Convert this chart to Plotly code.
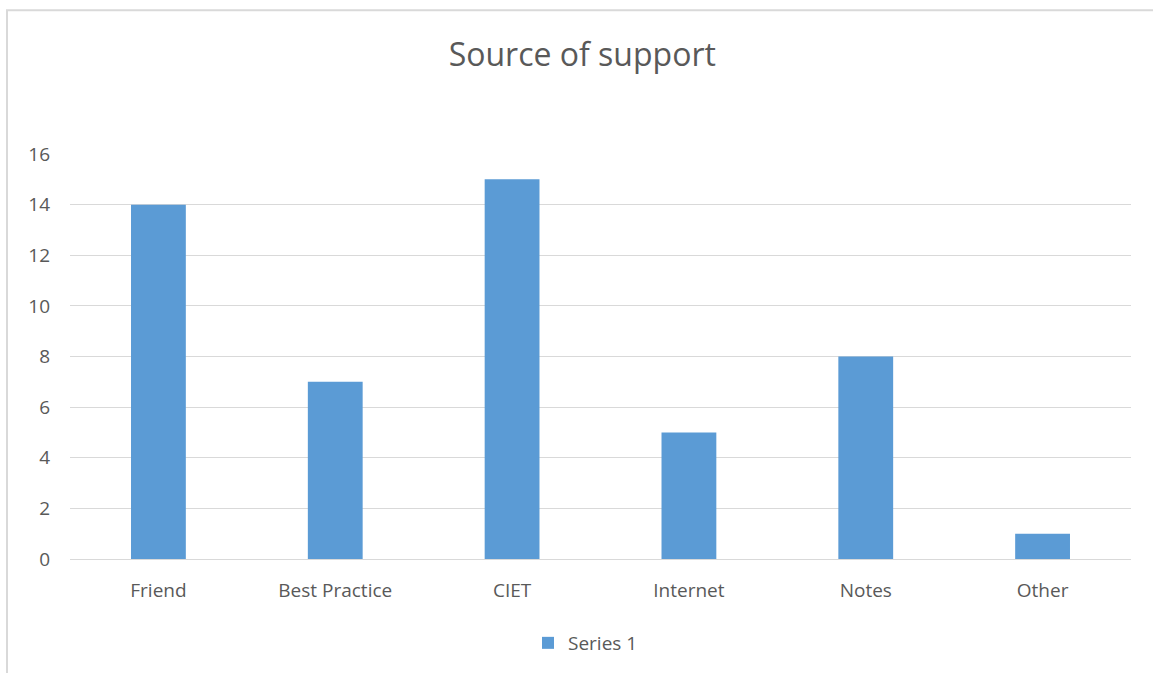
import plotly.graph_objects as go

# Chart data
categories = ["Friend", "Best Practice", "CIET", "Internet", "Notes", "Other"]
values = [14, 7, 15, 5, 8, 1]
series_name = "Series 1"
y_ticks = [0, 2, 4, 6, 8, 10, 12, 14, 16]

W, H = 1153, 673
L, R, T, B = 70, 22, 154, 113
pw, ph = W - L - R, H - T - B

text_color = "#595959"
grid_color = "#d9d9d9"
bar_color = "#5b9bd5"
font_family = "Open Sans, Liberation Sans, sans-serif"

fig = go.Figure()
fig.add_trace(go.Bar(
    x=categories,
    y=values,
    name=series_name,
    marker=dict(color=bar_color, line=dict(width=0)),
    width=0.31,
    showlegend=True,
))

# Outer chart border
def px_to_paper_x(px):
    return (px - L) / pw

def px_to_paper_y(py):
    return (H - B - py) / ph

fig.add_shape(
    type="rect", xref="paper", yref="paper",
    x0=px_to_paper_x(7), x1=px_to_paper_x(1160),
    y0=px_to_paper_y(680), y1=px_to_paper_y(10),
    line=dict(color=grid_color, width=2),
    fillcolor="rgba(0,0,0,0)", layer="below",
)

fig.update_layout(
    width=W, height=H,
    margin=dict(l=L, r=R, t=T, b=B),
    paper_bgcolor="white",
    plot_bgcolor="white",
    font=dict(family=font_family, color=text_color, size=19),
    title=dict(
        text="Source of support",
        x=0.505, xanchor="center",
        y=1 - 55 / H, yanchor="middle",
        font=dict(size=32, color=text_color, family=font_family),
    ),
    xaxis=dict(
        showgrid=False, showline=False, zeroline=False,
        ticks="", ticklabelstandoff=18,
        tickfont=dict(size=19, color=text_color),
    ),
    yaxis=dict(
        range=[0, 16],
        tickvals=y_ticks,
        showgrid=True, gridcolor=grid_color, gridwidth=1,
        zeroline=True, zerolinecolor=grid_color, zerolinewidth=1,
        showline=False, ticks="",
        ticklabelstandoff=19,
        tickfont=dict(size=19, color=text_color),
    ),
    legend=dict(
        orientation="h",
        x=0.5 - 15 / pw, xanchor="center",
        y=(H - B - 643) / ph, yanchor="middle",
        font=dict(size=19, color=text_color),
        bgcolor="rgba(0,0,0,0)",
    ),
    bargap=0.69,
)

fig.write_html("out.html")
